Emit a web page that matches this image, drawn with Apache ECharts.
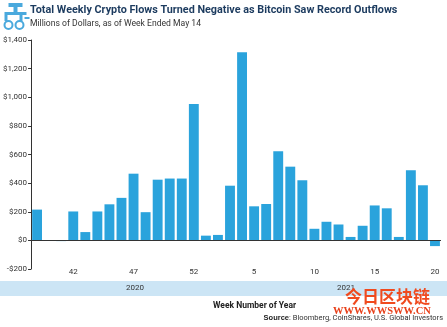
<!DOCTYPE html>
<html><head><meta charset="utf-8">
<script src="https://cdn.jsdelivr.net/npm/echarts@6/dist/echarts.min.js"></script>
<style>html,body{margin:0;padding:0;background:#fff}#c{width:447px;height:327px}</style>
</head><body><div id="c"></div>
<script>
var weeks = ['39','40','41','42','43','44','45','46','47','48','49','50','51','52','1','2','3','4','5','6','7','8','9','10','11','12','13','14','15','16','17','18','19','20'];
var flows = [215,0,-5,202,58,202,252,297,466,197,424,432,432,953,33,38,382,1315,238,254,622,515,420,81,130,111,24,102,244,224,24,490,385,-40];
var shownTicks = ['42','47','52','5','10','15','20'];
var yTicks = {min:-200, max:1400, interval:200};

var chart = echarts.init(document.getElementById('c'), null, {renderer:'canvas'});
var F = 'Roboto, "Open Sans", "DejaVu Sans", sans-serif';
chart.setOption({
  animation:false,
  textStyle:{fontFamily:F},
  grid:{left:30, right:6, top:40, bottom:58, containLabel:false},
  xAxis:{type:'category', data:weeks,
    axisLine:{show:false}, axisTick:{show:false},
    axisLabel:{interval:0, margin:-1, fontSize:8, color:'#333', fontFamily:F,
      formatter:function(v){return shownTicks.indexOf(v)>=0?v:'';}}},
  yAxis:{type:'value', min:yTicks.min, max:yTicks.max, interval:yTicks.interval,
    axisLine:{show:true, lineStyle:{color:'#333', width:1}},
    axisTick:{show:true, length:3, lineStyle:{color:'#333'}},
    splitLine:{show:false},
    axisLabel:{fontSize:8, color:'#333', margin:4, fontFamily:F,
      formatter:function(v){var s=Math.abs(v).toLocaleString('en-US');return (v<0?'-$':'$')+s;}}},
  series:[{type:'bar', data:flows, barCategoryGap:'18%',
    itemStyle:{color:'#2aa3dc'},
    markLine:{silent:true, symbol:'none', label:{show:false},
      lineStyle:{color:'#333', type:'solid', width:1}, data:[{yAxis:0}]}}],
  graphic:[
    {type:'text', left:30, top:5, style:{text:'Total Weekly Crypto Flows Turned Negative as Bitcoin Saw Record Outflows', font:'bold 10.8px '+F, fill:'#1c3b5f'}},
    {type:'text', left:30, top:19, style:{text:'Millions of Dollars, as of Week Ended May 14', font:'8.6px '+F, fill:'#333'}},
    {type:'group', left:2, top:3, children:[
      {type:'rect', shape:{x:6,y:0,width:14,height:4}, style:{fill:'#4aa9dd'}},
      {type:'rect', shape:{x:11,y:4,width:4,height:5}, style:{fill:'#4aa9dd'}},
      {type:'rect', shape:{x:2,y:9,width:22,height:3}, style:{fill:'#4aa9dd'}},
      {type:'rect', shape:{x:2,y:12,width:3,height:6}, style:{fill:'#4aa9dd'}},
      {type:'rect', shape:{x:17,y:12,width:3,height:6}, style:{fill:'#4aa9dd'}},
      {type:'circle', shape:{cx:6,cy:22,r:4}, style:{fill:'none', stroke:'#4aa9dd', lineWidth:2}},
      {type:'circle', shape:{cx:17,cy:22,r:4}, style:{fill:'none', stroke:'#4aa9dd', lineWidth:2}},
      {type:'rect', shape:{x:22,y:14,width:5,height:2}, style:{fill:'#4aa9dd'}}
    ]},
    {type:'rect', left:0, top:281, shape:{width:447, height:15}, style:{fill:'#cce5f5'}},
    {type:'text', left:126, top:284, style:{text:'2020', font:'8px '+F, fill:'#333'}},
    {type:'text', left:337, top:284, style:{text:'2021', font:'8px '+F, fill:'#333'}},
    {type:'text', left:213, top:301, style:{text:'Week Number of Year', font:'bold 8.5px '+F, fill:'#222'}},
    {type:'text', right:4, top:314, style:{text:'{b|Source}: Bloomberg, CoinShares, U.S. Global Investors',
      font:'7.5px '+F, fill:'#333', rich:{b:{fontWeight:'bold', fontSize:7.5, fill:'#222'}}}},
    {type:'text', left:345, top:288, style:{text:'今日区块链', font:'bold 17px "Noto Sans CJK SC", sans-serif', fill:'#f04a1e'}},
    {type:'text', left:333, top:306, style:{text:'WWW.WWSWW.CN', font:'bold 10.5px "Liberation Serif", "DejaVu Serif", serif', fill:'#e8401a'}}
  ]
});
</script></body></html>
